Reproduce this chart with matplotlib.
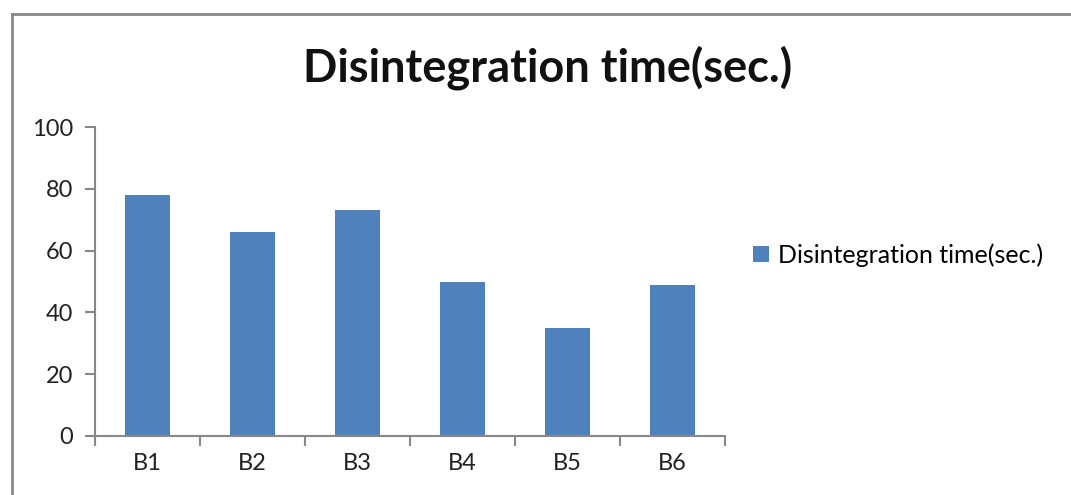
import matplotlib.pyplot as plt
from matplotlib.lines import Line2D
from matplotlib.patches import Patch

categories = ['B1', 'B2', 'B3', 'B4', 'B5', 'B6']
values = [78, 66, 73, 50, 35, 49]
series_name = 'Disintegration time(sec.)'

plt.rcParams['font.family'] = ['Lato', 'DejaVu Sans']

fig = plt.figure(figsize=(10.71, 4.95), dpi=100)
W, H = 1071, 495
ax = fig.add_axes([95 / W, 1 - 436 / H, 630 / W, 309 / H])

x = range(len(categories))
ax.bar(x, values, width=0.42, color='#4f81bd', zorder=2)

ax.set_xlim(-0.5, len(categories) - 0.5)
ax.set_ylim(0, 100)
ax.set_yticks(range(0, 101, 20))
ax.set_xticks(list(x))
ax.set_xticklabels(categories)
ax.set_xticks([i - 0.5 for i in range(len(categories) + 1)], minor=True)
ax.tick_params(axis='x', which='major', length=0, pad=12, labelsize=17, colors='#222222')
ax.tick_params(axis='x', which='minor', length=7, width=1.5, color='#888888')
ax.tick_params(axis='y', length=7, width=1.5, color='#888888', labelsize=17,
               labelcolor='#222222', pad=9)

for s in ['top', 'right']:
    ax.spines[s].set_visible(False)
for s in ['left', 'bottom']:
    ax.spines[s].set_color('#888888')
    ax.spines[s].set_linewidth(1.5)

fig.text(548 / W, 1 - 68 / H, series_name, ha='center', va='center',
         fontsize=32.5, fontweight='bold', color='#111111')

handle = Patch(facecolor='#4f81bd', edgecolor='none')
fig.legend([handle], [series_name], loc='center left',
           bbox_to_anchor=(730 / W, 1 - 255 / H), frameon=False,
           fontsize=18, handlelength=0.65, handleheight=0.65, handletextpad=0.35)

# outer chart border (top and left only visible)
top_y = 1 - 14 / H
left_x = 12 / W
fig.add_artist(Line2D([left_x, 1.05], [top_y, top_y], transform=fig.transFigure,
                      color='#888888', linewidth=2))
fig.add_artist(Line2D([left_x, left_x], [-0.05, top_y], transform=fig.transFigure,
                      color='#888888', linewidth=2))

fig.savefig('out.png', dpi=100)
